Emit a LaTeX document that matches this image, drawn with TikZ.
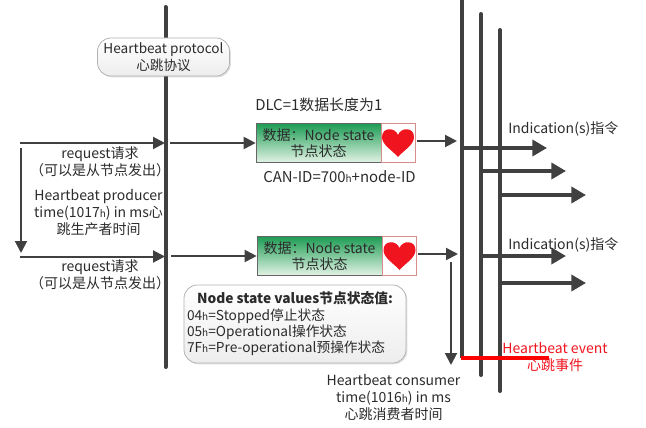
\documentclass[tikz,border=0pt]{standalone}
\usepackage{fontspec}
\setmainfont{Noto Sans CJK SC}
\usetikzlibrary{arrows.meta,shadows}
\definecolor{linegray}{HTML}{404040}
\definecolor{textgray}{HTML}{2B2B2B}
\definecolor{beatred}{HTML}{F0141E}
\definecolor{greentop}{HTML}{1E9C54}
\definecolor{greenbot}{HTML}{E2F3E5}
\newcommand{\hsub}{{\fontsize{7.5}{7.5}\selectfont h}}
\NewDocumentCommand{\drawheart}{m}{
    \fill[beatred, shift={(#1)}] (0,14) .. controls (-6,7) and (-16,2) .. (-16,-6)
        .. controls (-16,-16) and (-3,-16) .. (0,-8)
        .. controls (3,-16) and (16,-16) .. (16,-6)
        .. controls (16,2) and (6,7) .. (0,14) -- cycle;
}
\tikzset{
    lifeline/.style={draw=linegray, line width=3pt},
    thinarrow/.style={draw=linegray, line width=1.5pt, -{Triangle[length=9pt,width=9pt]}},
    fatarrow/.style={draw=linegray, line width=3pt, -{Triangle[length=11pt,width=12pt]}},
    label/.style={inner sep=0pt, align=center, text=textgray, font=\fontsize{10.5}{12.5}\selectfont},
    widelabel/.style={label, font=\fontsize{11.2}{12.5}\selectfont},
    databox/.style={draw=linegray!80, line width=.5pt, top color=greentop, bottom color=greenbot, minimum width=93.75pt, minimum height=29pt, inner sep=0pt, align=center, text=textgray, font=\fontsize{10.5}{12.5}\selectfont},
    heartbox/.style={draw=red!50!gray!60, line width=.6pt, fill=white, minimum width=25.5pt, minimum height=29pt, inner sep=0pt},
    notebox/.style={draw=gray!60, line width=.6pt, rounded corners=10pt, top color=white, bottom color=gray!14, drop shadow={opacity=.25, shadow xshift=1pt, shadow yshift=-1pt}, inner sep=0pt, align=center, text=textgray},
}
\begin{document}
\begin{tikzpicture}[x=.75pt, y=-.75pt]
    \useasboundingbox (0,0) rectangle (646,428);

    % Lifelines
    \coordinate (mainTop) at (165.5,7);
    \coordinate (mainBot) at (165.5,367);
    \draw[lifeline, line cap=round] (mainTop) -- (mainBot);
    \coordinate (lineAtop) at (461.5,0);
    \coordinate (lineAbot) at (461.5,358);
    \coordinate (lineBtop) at (481,14);
    \coordinate (lineBbot) at (481,375);
    \coordinate (lineCtop) at (500,30);
    \coordinate (lineCbot) at (500,391);
    \draw[lifeline] (lineAtop) -- (lineAbot);
    \draw[lifeline, line cap=round] (lineBtop) -- (lineBbot);
    \draw[lifeline, line cap=round] (lineCtop) -- (lineCbot);

    % Protocol title
    \node[notebox, minimum width=99pt, minimum height=28.5pt, font=\fontsize{10.2}{12.5}\selectfont] (title) at (163.5,57) {Heartbeat protocol\\心跳协议};

    % First frame
    \node[databox] (dataA) at (318.5,143) {数据：Node state\\节点状态};
    \node[heartbox] (heartA) at (398,143) {};
    \drawheart{heartA.center}
    \coordinate (reqAin) at (20,143);
    \coordinate (reqAmid) at (165,143);
    \coordinate (reqAout) at (170,143);
    \draw[thinarrow] (reqAin) -- (reqAmid);
    \draw[thinarrow] (reqAout) -- (dataA);
    \coordinate (frameAend) at (417,141);
    \coordinate (frameAtip) at (457,141);
    \draw[thinarrow] (frameAend) -- (frameAtip);

    % Second frame
    \node[databox] (dataB) at (319.5,256) {数据：Node state\\节点状态};
    \node[heartbox] (heartB) at (399.5,256) {};
    \drawheart{heartB.center}
    \coordinate (reqBin) at (20,256.5);
    \coordinate (reqBmid) at (165,256.5);
    \coordinate (reqBout) at (171,256);
    \draw[thinarrow] (reqBin) -- (reqBmid);
    \draw[thinarrow] (reqBout) -- (dataB);
    \coordinate (frameBend) at (418,254);
    \coordinate (frameBtip) at (458,254);
    \draw[thinarrow] (frameBend) -- (frameBtip);

    % Producer and consumer times
    \coordinate (prodTop) at (21,148);
    \coordinate (prodBot) at (21,253);
    \draw[thinarrow] (prodTop) -- (prodBot);
    \coordinate (consTop) at (451,262);
    \coordinate (consBot) at (451,365);
    \draw[thinarrow] (consTop) -- (consBot);

    % Indications
    \foreach \name/\ya/\xa/\xb in {a/148/461/547, b/171/481/566, c/195/500/586, d/256/481/566, e/283/500/586}{
        \coordinate (ind\name s) at (\xa,\ya);
        \coordinate (ind\name e) at (\xb,\ya);
        \draw[fatarrow] (ind\name s) -- (ind\name e);
    }

    % Heartbeat event
    \coordinate (eventA) at (461,358);
    \coordinate (eventB) at (549,358);
    \draw[draw=red, line width=3pt] (eventA) -- (eventB);

    % Texts
    \node[widelabel, anchor=west] (dlc) at (255,105) {DLC=1数据长度为1};
    \node[widelabel, anchor=west] (canid) at (263,177) {CAN-ID=700\hsub+node-ID};
    \node[label] (reqA) at (100,161.5) {request请求\\（可以是从节点发出）};
    \node[label] (prod) at (98.5,212.5) {Heartbeat producer\\time(1017\hsub) in ms心\\跳生产者时间};
    \node[label] (reqB) at (100,275) {request请求\\（可以是从节点发出）};
    \node[label, anchor=west] (indA) at (508,129) {Indication(s)指令};
    \node[label, anchor=west] (indB) at (508,245) {Indication(s)指令};
    \node[label] (cons) at (393.5,397.5) {Heartbeat consumer\\time(1016\hsub) in ms\\心跳消费者时间};
    \node[label, text=beatred] (event) at (555,357) {Heartbeat event\\心跳事件};

    % Node state values
    \node[notebox, minimum width=166.5pt, minimum height=58.5pt, font=\fontsize{10.3}{12.2}\selectfont] (values) at (295,324) {\textbf{Node state values节点状态值:}\\
        \makebox[162pt][l]{04\hsub=Stopped停止状态}\\
        \makebox[162pt][l]{05\hsub=Operational操作状态}\\
        \makebox[162pt][l]{7F\hsub=Pre-operational预操作状态}};
\end{tikzpicture}
\end{document}
